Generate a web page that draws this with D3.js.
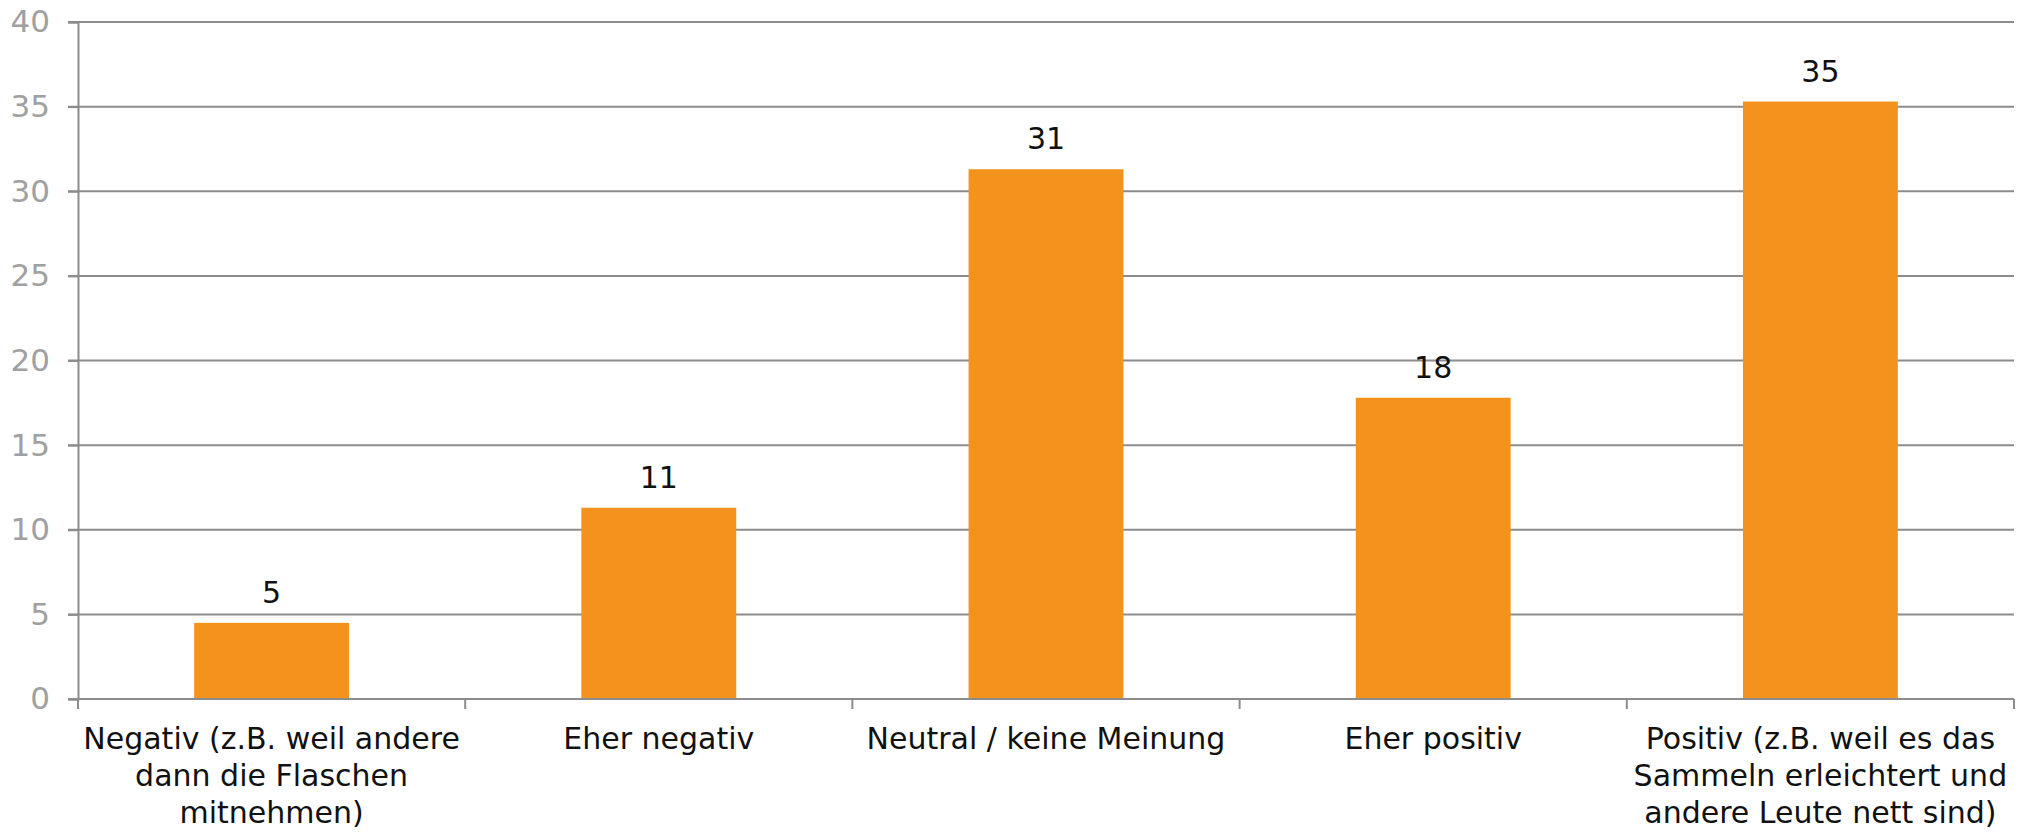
<!DOCTYPE html>
<html>
<head>
<meta charset="utf-8">
<script src="https://cdn.jsdelivr.net/npm/d3@7"></script>
<style>
body { margin: 0; background: #fff; }
svg text { font-family: "DejaVu Sans", sans-serif; }
</style>
</head>
<body>
<script>
var w = 2024;
var h = 834;

// categories (line breaks as in the original)
var categories = [
    'Negativ (z.B. weil andere\ndann die Flaschen\nmitnehmen)',
    'Eher negativ',
    'Neutral / keine Meinung',
    'Eher positiv',
    'Positiv (z.B. weil es das\nSammeln erleichtert und\nandere Leute nett sind)'
];
var values = [4.5, 11.3, 31.3, 17.8, 35.3];
var yTicks = [0, 5, 10, 15, 20, 25, 30, 35, 40];

var margin = {top: 22, right: 10, bottom: 135, left: 78};

var svg = d3.select('body').append('svg')
    .attr('width', w).attr('height', h);

var x = d3.scaleBand()
    .domain(categories)
    .range([margin.left, w - margin.right])
    .paddingInner(0.6).paddingOuter(0.3);

var y = d3.scaleLinear()
    .domain([0, 40])
    .range([h - margin.bottom, margin.top]);

// gridlines
svg.append('g').selectAll('line')
    .data(yTicks).enter()
    .append('line')
    .attr('x1', margin.left - 10)
    .attr('x2', w - margin.right)
    .attr('y1', function(d) { return y(d); })
    .attr('y2', function(d) { return y(d); })
    .attr('stroke', '#8c8c8c')
    .attr('stroke-width', 2);

// y axis
var yAxis = svg.append('g')
    .attr('transform', 'translate(' + margin.left + ',0)')
    .call(d3.axisLeft(y).tickValues(yTicks).tickSize(10).tickPadding(18));
yAxis.select('.domain').attr('stroke', '#8c8c8c').attr('stroke-width', 2);
yAxis.selectAll('.tick line').attr('stroke', '#8c8c8c').attr('stroke-width', 2);
yAxis.selectAll('.tick text')
    .attr('fill', '#a0a0a0')
    .style('font-size', '31px');

// bars
svg.append('g').selectAll('rect')
    .data(values).enter()
    .append('rect')
    .attr('x', function(d, i) { return x(categories[i]); })
    .attr('y', function(d) { return y(d); })
    .attr('width', x.bandwidth())
    .attr('height', function(d) { return y(0) - y(d); })
    .attr('fill', '#f3921d');

// value labels
svg.append('g').selectAll('text')
    .data(values).enter()
    .append('text')
    .attr('x', function(d, i) { return x(categories[i]) + x.bandwidth() / 2; })
    .attr('y', function(d) { return y(d) - 20; })
    .attr('text-anchor', 'middle')
    .style('font-size', '30px')
    .attr('fill', '#111')
    .text(function(d) { return Math.round(d); });

// x axis line + ticks at band edges
var x0 = y(0);
var edges = d3.range(categories.length + 1).map(function(i) {
    return margin.left + i * (w - margin.right - margin.left) / categories.length;
});
svg.append('line')
    .attr('x1', margin.left).attr('x2', w - margin.right)
    .attr('y1', x0).attr('y2', x0)
    .attr('stroke', '#8c8c8c').attr('stroke-width', 2);
svg.append('g').selectAll('line')
    .data(edges).enter()
    .append('line')
    .attr('x1', function(d) { return d; })
    .attr('x2', function(d) { return d; })
    .attr('y1', x0).attr('y2', x0 + 10)
    .attr('stroke', '#8c8c8c').attr('stroke-width', 2);

// category labels
var catLabels = svg.append('g').selectAll('text')
    .data(categories).enter()
    .append('text')
    .attr('text-anchor', 'middle')
    .style('font-size', '30px')
    .attr('fill', '#111');
catLabels.each(function(d) {
    var t = d3.select(this);
    var cx = x(d) + x.bandwidth() / 2;
    d.split('\n').forEach(function(line, i) {
        t.append('tspan')
            .attr('x', cx)
            .attr('y', x0 + 50 + i * 37)
            .text(line);
    });
});
</script>
</body>
</html>
